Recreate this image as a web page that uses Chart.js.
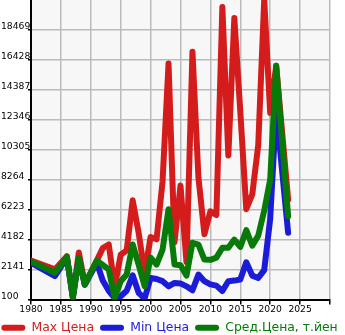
<!DOCTYPE html>
<html>
<head>
<meta charset="utf-8">
<script src="https://cdn.jsdelivr.net/npm/chart.js@4"></script>
<style>
html, body { margin: 0; padding: 0; overflow: hidden; background: #fff; }
#wrap { position: absolute; left: -41px; top: -6px; width: 421px; height: 350px; }
</style>
</head>
<body>
<div id="wrap"><canvas id="chart1"></canvas></div>
<script>
// years (straight runs between them have no own vertex)
let years = [1980, 1984, 1986, 1987, 1988, 1989, 1991, 1992, 1993, 1994, 1995, 1996, 1997, 1998, 1999, 2000, 2001, 2002, 2003, 2004, 2005, 2006, 2007, 2008, 2009, 2010, 2011, 2012, 2013, 2014, 2015, 2016, 2017, 2018, 2019, 2020, 2021, 2023];
let maxPrice = [2750, 2150, 3050, 250, 3300, 1150, 2750, 3600, 3850, 950, 3150, 3450, 6850, 4650, 1900, 4350, 4200, 8150, 16150, 4000, 7850, 2650, 16950, 8400, 4550, 6100, 5850, 20000, 9900, 19250, 12900, 6250, 7250, 10600, 20500, 12800, 16000, 6900];
let minPrice = [2600, 1700, 2950, 250, 2900, 1100, 2600, 1400, 700, 200, 330, 700, 1750, 560, 170, 1570, 1500, 1350, 1000, 1230, 1200, 1000, 730, 1800, 1350, 1130, 1050, 680, 1350, 1390, 1460, 2640, 1730, 1570, 2100, 5600, 13000, 4650];
let avgPrice = [2700, 1920, 3000, 220, 2950, 1120, 2750, 2450, 2150, 220, 1350, 1800, 3850, 2480, 1000, 2950, 2480, 3500, 6250, 2480, 2430, 1730, 3960, 3840, 2820, 2800, 2950, 3620, 3620, 4180, 3680, 4820, 3770, 4450, 6150, 8260, 16000, 5770];

let seriesNames = ['Max Цена', 'Min Цена', 'Сред.Цена, т.йен'];
let seriesColors = ['#d41c1c', '#1c1cd8', '#077a07'];

let yMin = 100;
let yMax = 20510;
let yStep = 2041;
let xMin = 1980;
let xMax = 2030;
let xStep = 5;

function points(values) {
    return years.map((yr, i) => ({ x: yr, y: values[i] }));
}

// fond gris clair de la zone de tracé
const plotBg = {
    id: 'plotBg',
    beforeDraw(chart) {
        let a = chart.chartArea;
        let ctx = chart.ctx;
        ctx.save();
        ctx.fillStyle = '#f7f7f7';
        ctx.fillRect(a.left, a.top, a.right - a.left, a.bottom - a.top);
        ctx.restore();
    }
};

Chart.defaults.font.family = "'DejaVu Sans', sans-serif";
Chart.defaults.color = '#000';

let allValues = [maxPrice, minPrice, avgPrice];
let datasets = allValues.map((vals, i) => ({
    label: seriesNames[i],
    data: points(vals),
    borderColor: seriesColors[i],
    backgroundColor: seriesColors[i],
    borderWidth: 6,
    pointRadius: 0,
    tension: 0,
    fill: false,
    borderJoinStyle: 'round',
    borderCapStyle: 'round',
    order: 3 - i
}));

// axes vides qui servent de marges (le canvas dépasse la fenêtre pour la légende)
function spacer(pos, w) {
    return {
        position: pos,
        weight: 10,
        min: 0,
        max: 1,
        grid: { display: false },
        border: { display: false },
        ticks: { display: false },
        afterFit: s => { s.width = w; }
    };
}

let ctx1 = document.getElementById('chart1').getContext('2d');
new Chart(ctx1, {
    type: 'line',
    data: { datasets: datasets },
    plugins: [plotBg],
    options: {
        responsive: true,
        maintainAspectRatio: false,
        animation: false,
        layout: { padding: 0 },
        plugins: {
            tooltip: { enabled: false },
            legend: {
                position: 'bottom',
                labels: {
                    boxWidth: 24,
                    boxHeight: 6,
                    padding: 6,
                    font: { size: 12.4 },
                    generateLabels(chart) {
                        return chart.data.datasets.map((ds, i) => ({
                            text: ds.label,
                            fillStyle: ds.borderColor,
                            strokeStyle: ds.borderColor,
                            fontColor: ds.borderColor,
                            lineWidth: 0,
                            borderRadius: 3,
                            hidden: false,
                            datasetIndex: i
                        }));
                    }
                }
            }
        },
        scales: {
            x: {
                type: 'linear',
                min: xMin,
                max: xMax,
                ticks: {
                    stepSize: xStep,
                    autoSkip: false,
                    maxRotation: 0,
                    padding: 0,
                    font: { size: 9.2 },
                    callback: v => (v >= xMax ? '' : String(v))
                },
                grid: { color: '#bbbbbb', lineWidth: 1.5, tickLength: 5, tickColor: '#000' },
                border: { color: '#000', width: 2 }
            },
            y: {
                min: yMin,
                max: yMax,
                weight: 0,
                ticks: {
                    stepSize: yStep,
                    crossAlign: 'far',
                    labelOffset: -3,
                    padding: 0,
                    font: { size: 9.2 },
                    callback: v => (v >= yMax ? null : String(v))
                },
                grid: { color: '#bbbbbb', lineWidth: 1.5, tickLength: 3, tickColor: '#000' },
                border: { color: '#000', width: 2 },
                afterFit: s => { s.width = 30; }
            },
            padL: spacer('left', 42),
            padR: spacer('right', 50)
        }
    }
});
</script>
</body>
</html>
